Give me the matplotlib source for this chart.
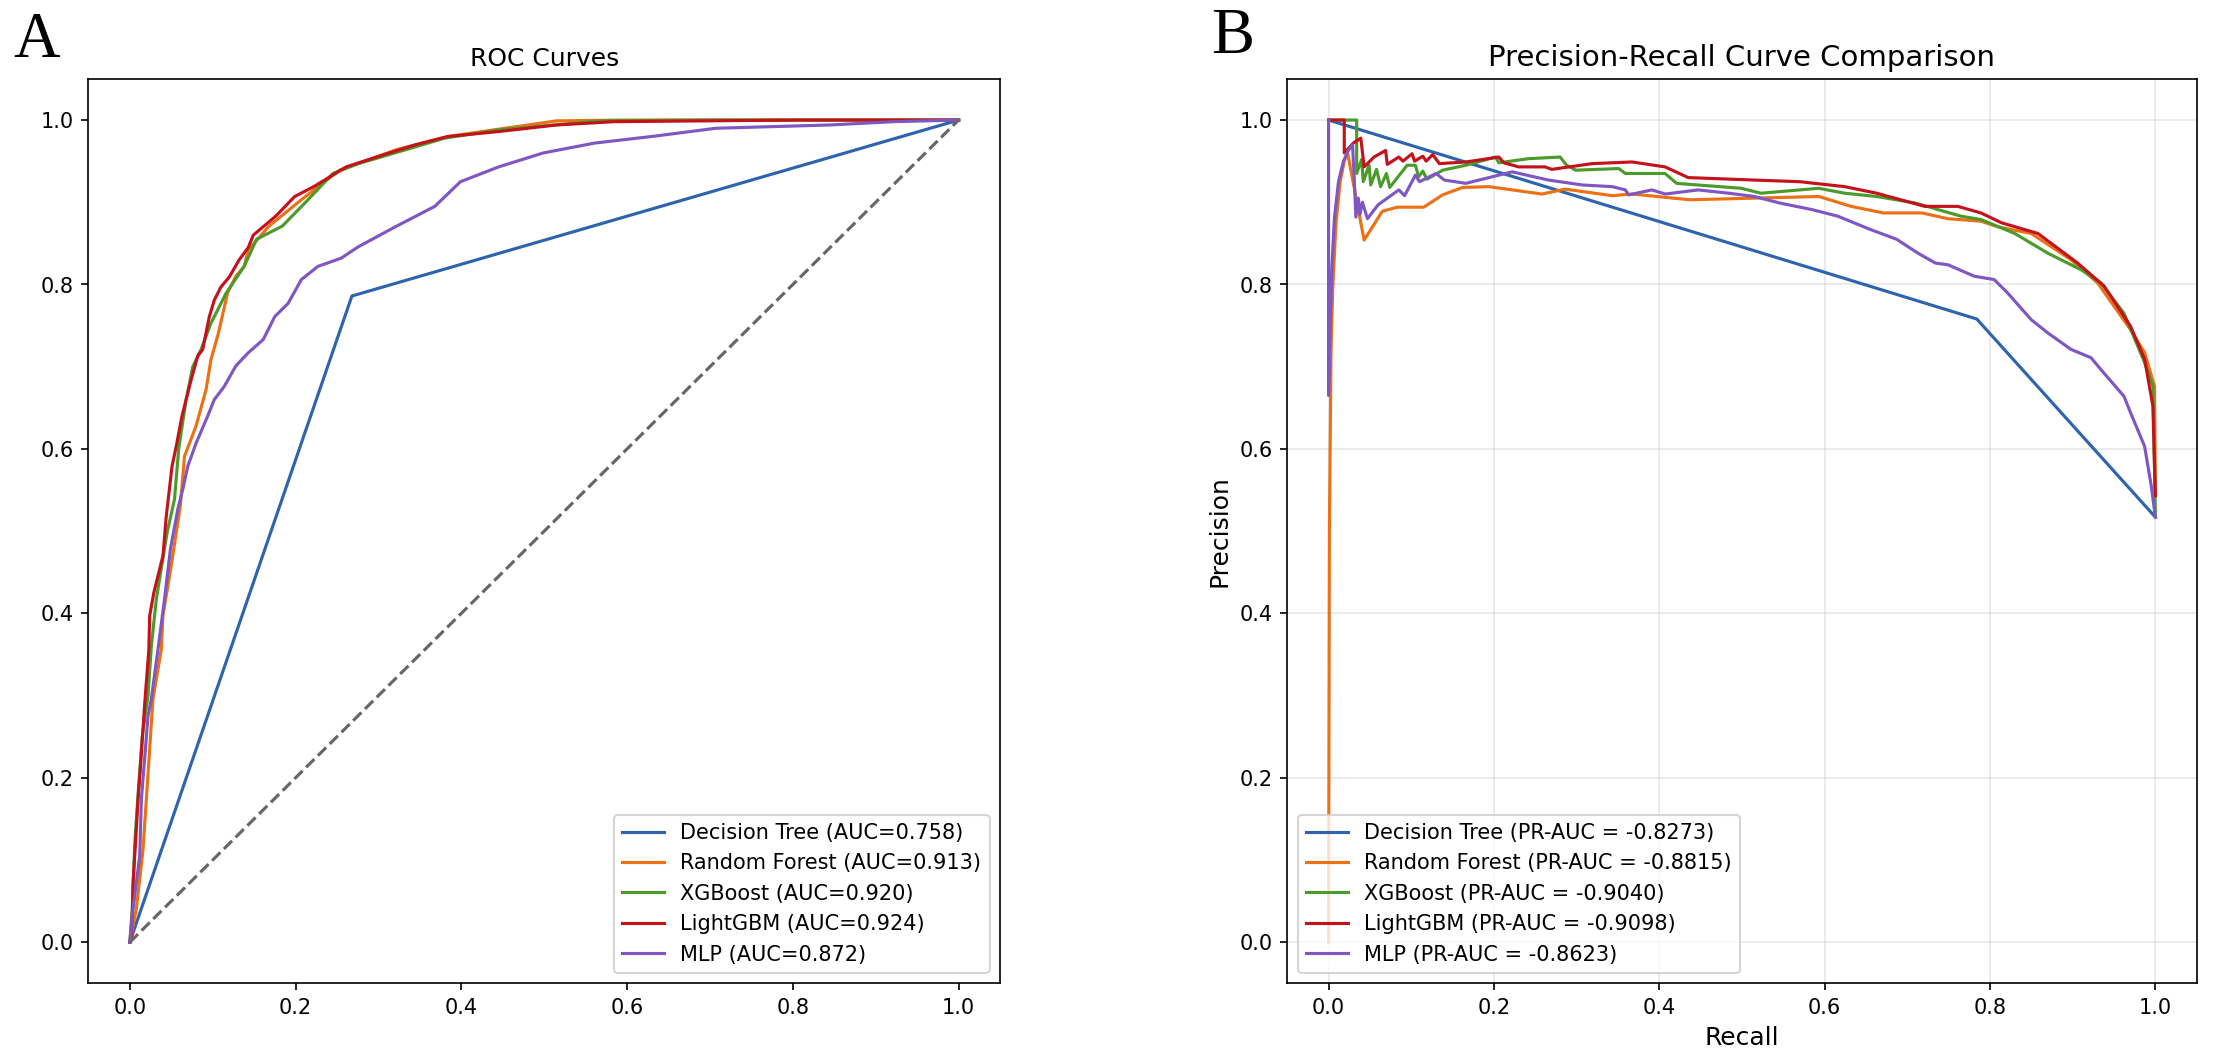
import matplotlib
matplotlib.use('Agg')
import matplotlib.pyplot as plt
import numpy as np

# model names and colours
models = ['Decision Tree', 'Random Forest', 'XGBoost', 'LightGBM', 'MLP']
colors = ['#2e64ae', '#ec7014', '#4b9b2a', '#c4121c', '#7e57c2']
roc_auc = [0.758, 0.913, 0.920, 0.924, 0.872]
pr_auc = [-0.8273, -0.8815, -0.9040, -0.9098, -0.8623]

# ROC curves (fpr, tpr)
dt_fpr = [0.0, 0.268, 1.0]
dt_tpr = [0.0, 0.786, 1.0]

rf_fpr = [0.0, 0.008, 0.016, 0.024, 0.028, 0.038, 0.040, 0.050, 0.061, 0.066, 0.080, 0.092,
          0.098, 0.107, 0.118, 0.128, 0.138, 0.143, 0.168, 0.207, 0.253, 0.322, 0.384, 0.515,
          0.600, 1.0]
rf_tpr = [0.0, 0.041, 0.113, 0.235, 0.296, 0.356, 0.397, 0.458, 0.531, 0.591, 0.628, 0.672,
          0.709, 0.741, 0.790, 0.810, 0.822, 0.842, 0.871, 0.903, 0.939, 0.964, 0.980, 0.999,
          1.0, 1.0]

xgb_fpr = [0.0, 0.003, 0.006, 0.010, 0.015, 0.022, 0.026, 0.032, 0.045, 0.054, 0.059, 0.068,
           0.076, 0.086, 0.098, 0.116, 0.138, 0.153, 0.184, 0.215, 0.245, 0.276, 0.330, 0.380,
           0.445, 0.568, 0.700, 1.0]
xgb_tpr = [0.0, 0.040, 0.120, 0.180, 0.250, 0.300, 0.360, 0.417, 0.498, 0.539, 0.600, 0.660,
           0.700, 0.721, 0.753, 0.789, 0.822, 0.855, 0.871, 0.903, 0.935, 0.947, 0.963, 0.978,
           0.988, 0.999, 1.0, 1.0]

lgb_fpr = [0.0, 0.001, 0.003, 0.004, 0.007, 0.010, 0.013, 0.018, 0.023, 0.024, 0.029, 0.040,
           0.044, 0.051, 0.056, 0.063, 0.069, 0.074, 0.082, 0.088, 0.096, 0.102, 0.110, 0.120,
           0.132, 0.143, 0.149, 0.176, 0.199, 0.222, 0.261, 0.307, 0.345, 0.384, 0.445, 0.515,
           0.584, 0.807, 1.0]
lgb_tpr = [0.0, 0.0, 0.033, 0.073, 0.122, 0.174, 0.215, 0.290, 0.356, 0.397, 0.425, 0.470,
           0.518, 0.579, 0.603, 0.640, 0.664, 0.684, 0.713, 0.721, 0.761, 0.781, 0.797, 0.809,
           0.830, 0.845, 0.860, 0.883, 0.907, 0.919, 0.943, 0.958, 0.970, 0.980, 0.986, 0.994,
           0.998, 1.0, 1.0]

mlp_fpr = [0.0, 0.003, 0.012, 0.014, 0.022, 0.026, 0.034, 0.042, 0.049, 0.058, 0.064, 0.070,
           0.080, 0.094, 0.102, 0.114, 0.128, 0.143, 0.161, 0.175, 0.191, 0.207, 0.227, 0.255,
           0.276, 0.322, 0.368, 0.399, 0.445, 0.499, 0.561, 0.630, 0.707, 0.845, 0.922, 1.0]
mlp_tpr = [0.0, 0.033, 0.105, 0.174, 0.275, 0.296, 0.356, 0.418, 0.478, 0.527, 0.551, 0.579,
           0.607, 0.640, 0.660, 0.676, 0.701, 0.717, 0.733, 0.761, 0.777, 0.806, 0.822, 0.832,
           0.846, 0.871, 0.895, 0.925, 0.943, 0.960, 0.972, 0.980, 0.990, 0.994, 0.998, 1.0]

# Precision-recall curves (recall, precision)
dt_rec = [0.0, 0.784, 1.0]
dt_prec = [1.0, 0.758, 0.517]

rf_rec = [0.0, 0.001, 0.003, 0.005, 0.009, 0.014, 0.019, 0.023, 0.043, 0.065, 0.083, 0.115,
          0.138, 0.162, 0.194, 0.258, 0.286, 0.343, 0.367, 0.437, 0.515, 0.593, 0.632, 0.671,
          0.718, 0.749, 0.789, 0.810, 0.850, 0.898, 0.930, 0.970, 0.987, 0.999, 1.0]
rf_prec = [0.0, 0.50, 0.72, 0.794, 0.875, 0.925, 0.950, 0.960, 0.854, 0.889, 0.894, 0.894,
           0.909, 0.918, 0.919, 0.910, 0.916, 0.908, 0.910, 0.903, 0.905, 0.907, 0.895, 0.887,
           0.887, 0.880, 0.877, 0.870, 0.862, 0.830, 0.802, 0.745, 0.717, 0.676, 0.550]

xgb_rec = [0.0, 0.034, 0.034, 0.040, 0.042, 0.049, 0.051, 0.058, 0.063, 0.070, 0.074, 0.095,
           0.105, 0.109, 0.114, 0.119, 0.138, 0.166, 0.202, 0.206, 0.242, 0.280, 0.288, 0.299,
           0.351, 0.359, 0.407, 0.421, 0.499, 0.523, 0.593, 0.624, 0.663, 0.710, 0.765, 0.789,
           0.830, 0.870, 0.910, 0.934, 0.962, 0.987, 0.997, 1.0]
xgb_prec = [1.0, 1.0, 0.935, 0.952, 0.925, 0.945, 0.921, 0.940, 0.919, 0.935, 0.918, 0.945,
            0.945, 0.931, 0.938, 0.928, 0.939, 0.945, 0.955, 0.948, 0.953, 0.955, 0.945, 0.939,
            0.941, 0.935, 0.935, 0.923, 0.917, 0.911, 0.917, 0.911, 0.907, 0.899, 0.883, 0.879,
            0.862, 0.838, 0.818, 0.802, 0.765, 0.705, 0.676, 0.520]

lgb_rec = [0.0, 0.019, 0.019, 0.030, 0.039, 0.043, 0.055, 0.069, 0.071, 0.085, 0.090, 0.101,
           0.104, 0.114, 0.118, 0.126, 0.134, 0.166, 0.206, 0.212, 0.230, 0.262, 0.270, 0.319,
           0.367, 0.407, 0.435, 0.515, 0.570, 0.624, 0.663, 0.721, 0.761, 0.789, 0.814, 0.858,
           0.890, 0.906, 0.938, 0.970, 0.987, 0.997, 1.0]
lgb_prec = [1.0, 1.0, 0.960, 0.972, 0.978, 0.943, 0.955, 0.963, 0.946, 0.955, 0.950, 0.959,
            0.950, 0.956, 0.950, 0.958, 0.947, 0.949, 0.955, 0.948, 0.943, 0.943, 0.940, 0.947,
            0.949, 0.943, 0.930, 0.927, 0.925, 0.919, 0.911, 0.895, 0.895, 0.887, 0.875, 0.862,
            0.838, 0.826, 0.798, 0.749, 0.709, 0.652, 0.543]

mlp_rec = [0.0, 0.0, 0.002, 0.004, 0.007, 0.012, 0.018, 0.024, 0.029, 0.031, 0.033, 0.036,
           0.038, 0.041, 0.047, 0.060, 0.085, 0.092, 0.105, 0.110, 0.130, 0.140, 0.166, 0.206,
           0.222, 0.266, 0.307, 0.343, 0.359, 0.363, 0.391, 0.407, 0.447, 0.484, 0.515, 0.546,
           0.585, 0.616, 0.655, 0.687, 0.713, 0.734, 0.749, 0.781, 0.805, 0.821, 0.850, 0.870,
           0.898, 0.922, 0.938, 0.962, 0.970, 0.987, 0.995, 1.0]
mlp_prec = [1.0, 0.665, 0.750, 0.820, 0.880, 0.925, 0.950, 0.963, 0.970, 0.930, 0.882, 0.905,
            0.885, 0.900, 0.880, 0.897, 0.915, 0.908, 0.933, 0.925, 0.935, 0.927, 0.923, 0.933,
            0.937, 0.927, 0.921, 0.919, 0.915, 0.909, 0.915, 0.910, 0.915, 0.911, 0.907, 0.899,
            0.891, 0.883, 0.867, 0.855, 0.838, 0.826, 0.824, 0.810, 0.806, 0.790, 0.757, 0.741,
            0.721, 0.711, 0.692, 0.664, 0.644, 0.603, 0.555, 0.517]

roc_x = [dt_fpr, rf_fpr, xgb_fpr, lgb_fpr, mlp_fpr]
roc_y = [dt_tpr, rf_tpr, xgb_tpr, lgb_tpr, mlp_tpr]
pr_x = [dt_rec, rf_rec, xgb_rec, lgb_rec, mlp_rec]
pr_y = [dt_prec, rf_prec, xgb_prec, lgb_prec, mlp_prec]

fig = plt.figure(figsize=(14.76, 7.067), dpi=150)
ax1 = fig.add_axes([0.0399, 0.0723, 0.4118, 0.8532])
ax2 = fig.add_axes([0.5814, 0.0723, 0.4108, 0.8532])

# panel A: ROC
for name, c, auc, x, y in zip(models, colors, roc_auc, roc_x, roc_y):
    ax1.plot(x, y, color=c, lw=1.5, label=f'{name} (AUC={auc:.3f})')
ax1.plot([0, 1], [0, 1], '--', color='#666666', lw=1.5)
ax1.set_title('ROC Curves', fontsize=12)
ax1.legend(loc='lower right', fontsize=10)

# panel B: precision-recall
for name, c, auc, x, y in zip(models, colors, pr_auc, pr_x, pr_y):
    ax2.plot(x, y, color=c, lw=1.5, label=f'{name} (PR-AUC = {auc:.4f})')
ax2.set_title('Precision-Recall Curve Comparison', fontsize=14)
ax2.set_xlabel('Recall', fontsize=12)
ax2.set_ylabel('Precision', fontsize=12)
ax2.grid(True, alpha=0.3)
ax2.legend(loc='lower left', fontsize=10)

fig.text(0.006, 0.946, 'A', fontsize=31, family='Liberation Serif', ha='left', va='baseline')
fig.text(0.547, 0.950, 'B', fontsize=31, family='Liberation Serif', ha='left', va='baseline')

fig.savefig('out.png', dpi=150)
